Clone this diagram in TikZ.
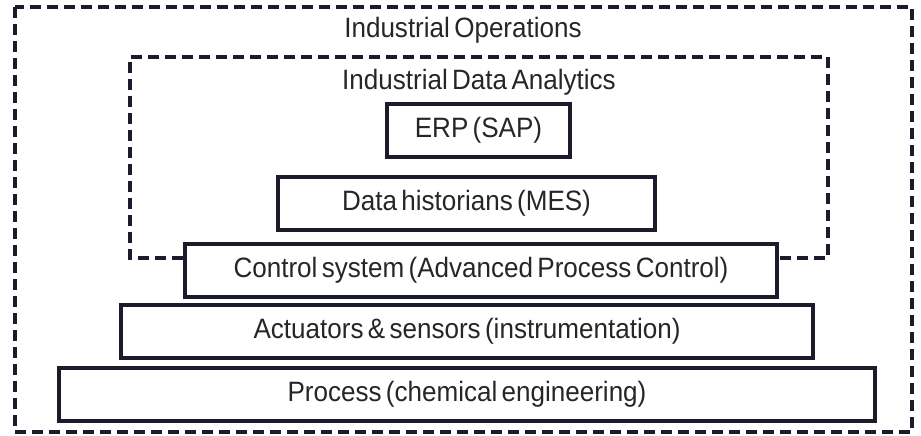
\documentclass[tikz,border=0pt]{standalone}
\usepackage{fontspec}
\setmainfont{Liberation Sans}[WordSpace=0.6, FakeStretch=0.93]
\usetikzlibrary{positioning}
\definecolor{layerline}{HTML}{1B1B2B}

\tikzset{
	layer/.style={draw=layerline, line width=4pt, minimum height=53pt, inner sep=0pt},
	frame/.style={draw=layerline, line width=3.5pt, dash pattern=on 11pt off 6pt}
}

\begin{document}
\begin{tikzpicture}[x=1pt, y=-1pt, font=\fontsize{28}{32}\selectfont, text=black!85]
	\useasboundingbox (0,0) rectangle (921,436);
	
	\node[layer, minimum width=183pt] (erp) at (478.5,130.5) {ERP (SAP)};
	\node[layer, minimum width=377pt] (historians) at (466.5,203) {Data historians (MES)};
	\node[layer, minimum width=592pt] (control) at (481,270.5) {Control system (Advanced Process Control)};
	\node[layer, minimum width=692pt] (actuators) at (467,331.5) {Actuators \& sensors (instrumentation)};
	\node[layer, minimum width=816pt] (process) at (467,394) {Process (chemical engineering)};
	
	\node (ops) at (463,30) {Industrial Operations};
	\node (analytics) at (479,82) {Industrial Data Analytics};
	
	% dashed frames
	\coordinate (gap) at (0,258);
	\draw[frame] (15,7) rectangle (912,432);
	\draw[frame] (control.west |- gap) -- (130,258) -- (130,57) -- (828,57) -- (828,258) -- (control.east |- gap);
	
\end{tikzpicture}
\end{document}
